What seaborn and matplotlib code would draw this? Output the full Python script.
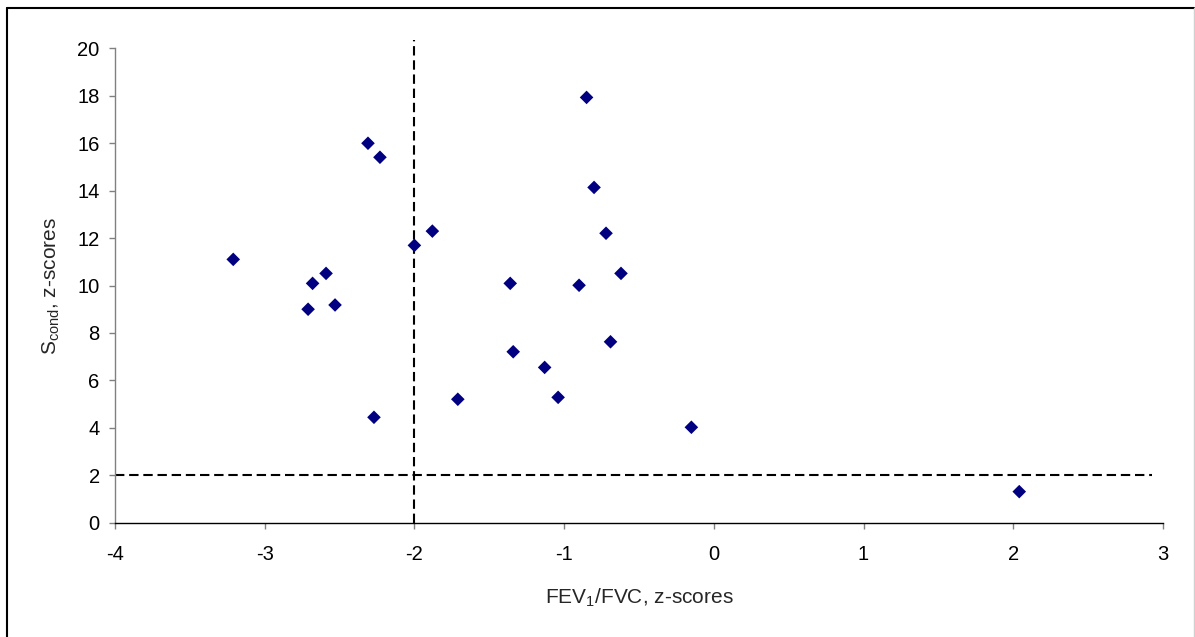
#-------------------------------------------
# Scatter of Scond vs FEV1/FVC z-scores
#-------------------------------------------

import pandas as pd
import matplotlib.pyplot as plt
import seaborn as sns

#%%
#------------------ DATA -------------------------------------------

fev_fvc = [-3.21, -2.71, -2.68, -2.59, -2.53, -2.31, -2.23, -2.27, -2.00, -1.88,
           -1.71, -0.85, -0.80, -0.72, -0.62, -1.36, -0.90, -0.69, -1.34, -1.13,
           -1.04, -0.15, 2.04]
scond = [11.10, 9.00, 10.09, 10.51, 9.18, 15.99, 15.40, 4.45, 11.69, 12.29,
         5.21, 17.92, 14.13, 12.20, 10.51, 10.09, 10.01, 7.63, 7.21, 6.55,
         5.29, 4.03, 1.32]

# cut-off lines (lower limit of normal)
cut_x = -2
cut_y = 2
hline_x = [-4, 2.93]
vline_y = [0, 20.35]

x_ticks = [-4, -3, -2, -1, 0, 1, 2, 3]
y_ticks = [0, 2, 4, 6, 8, 10, 12, 14, 16, 18, 20]

d = pd.DataFrame({'x': fev_fvc, 'y': scond})

#%%
#------------------ DATA VISUALISATION -----------------------------

sns.set_style('white')
plt.rcParams['font.family'] = ['Liberation Sans', 'DejaVu Sans']
plt.rcParams['mathtext.default'] = 'regular'

fig = plt.figure(figsize = (11.95, 6.37), dpi = 100)
ax = fig.add_axes([0.0962, 0.179, 0.877, 0.7456])

# Reference lines

dash = (4.5, 2.3)
ax.plot(hline_x, [cut_y, cut_y], color = 'black', lw = 1.5, ls = (0, dash), zorder = 1, clip_on = False)
ax.plot([cut_x, cut_x], vline_y, color = 'black', lw = 1.5, ls = (0, dash), zorder = 1, clip_on = False)

# Points

sns.scatterplot(data = d, x = 'x', y = 'y', marker = 'D', s = 48, color = '#000080',
                edgecolor = 'none', linewidth = 0, ax = ax, zorder = 3, clip_on = False)

# Axes

ax.set_xlim(-4, 3)
ax.set_ylim(0, 20)
ax.set_xticks(x_ticks)
ax.set_yticks(y_ticks)
ax.set_xticklabels([str(t) for t in x_ticks])
ax.set_yticklabels([str(t) for t in y_ticks])

for s in ['top', 'right']:
    ax.spines[s].set_visible(False)
ax.spines['left'].set_color('#808080')
ax.spines['bottom'].set_color('black')
ax.spines['left'].set_linewidth(1.0)
ax.spines['bottom'].set_linewidth(1.0)

ax.tick_params(axis = 'both', direction = 'out', length = 4, width = 1, color = '#808080',
               labelsize = 14.5, labelcolor = 'black', pad = 7)
ax.tick_params(axis = 'x', bottom = True, pad = 12)
ax.tick_params(axis = 'y', left = True)

ax.set_xlabel('FEV$_1$/FVC, z-scores', fontsize = 15, labelpad = 16)
ax.set_ylabel('S$_{cond}$, z-scores', fontsize = 15, labelpad = 11)

# Outer frame

fig.add_artist(plt.Line2D([7 / 1195, 1194 / 1195], [1 - 8 / 637, 1 - 8 / 637], color = 'black', lw = 1.5))
fig.add_artist(plt.Line2D([7 / 1195, 7 / 1195], [0, 1 - 8 / 637], color = 'black', lw = 1.5))
fig.add_artist(plt.Line2D([1194 / 1195, 1194 / 1195], [0, 1 - 8 / 637], color = '#d0d0d0', lw = 1))

plt.savefig('out.png', dpi = 100)
